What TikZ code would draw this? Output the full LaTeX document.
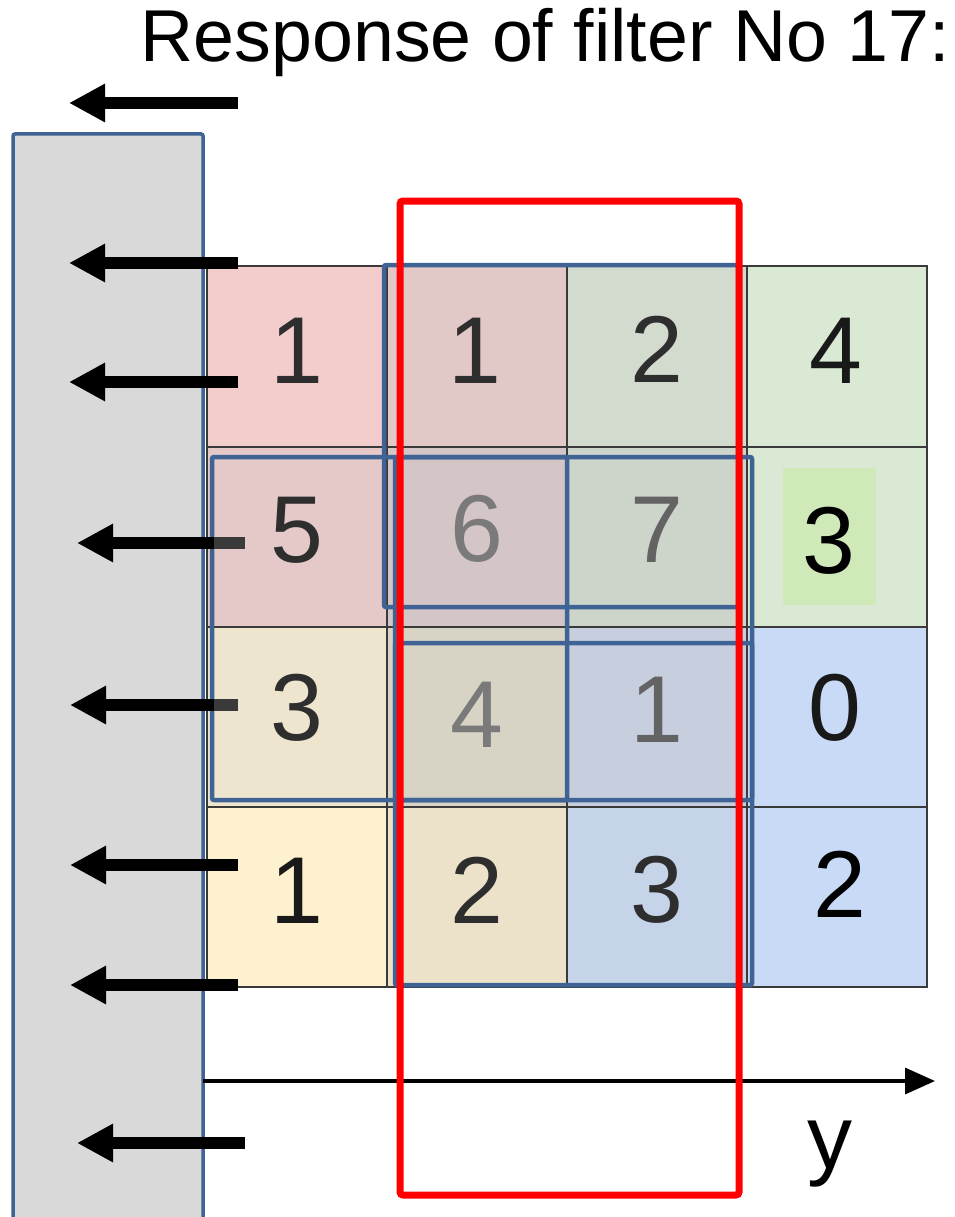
\documentclass[tikz,border=0pt]{standalone}
\usepackage{fontspec}
\setmainfont{Liberation Sans}
\usetikzlibrary{arrows.meta}
\definecolor{bluebord}{HTML}{3E6394}
\definecolor{gridc}{HTML}{3A3A3A}
\definecolor{panel}{HTML}{D9D9D9}
\definecolor{cAa}{HTML}{F3CCCC}\definecolor{cAb}{HTML}{E3C8C8}\definecolor{cAc}{HTML}{D3DBCF}\definecolor{cAd}{HTML}{D9E9D3}
\definecolor{cBa}{HTML}{E5C9C9}\definecolor{cBb}{HTML}{D4C5C6}\definecolor{cBc}{HTML}{CDD4CA}\definecolor{cBd}{HTML}{D9E9D3}
\definecolor{cCa}{HTML}{EEE5CF}\definecolor{cCb}{HTML}{D7D4C6}\definecolor{cCc}{HTML}{C7CFDF}\definecolor{cCd}{HTML}{C9DAF6}
\definecolor{cDa}{HTML}{FEF1CF}\definecolor{cDb}{HTML}{ECE2CA}\definecolor{cDc}{HTML}{C6D4E9}\definecolor{cDd}{HTML}{C9DAF6}
\definecolor{greenhl}{HTML}{D0E9B9}
\definecolor{tdark}{HTML}{2E2E2E}
\definecolor{tgrey}{HTML}{7A7A7A}
\definecolor{tmid}{HTML}{636363}
\begin{document}
\begin{tikzpicture}[x=1pt,y=-1pt,
  gridline/.style={draw=gridc, line width=2.5pt},
  winbox/.style={draw=bluebord, line width=4.5pt, rounded corners=2pt},
  larrow/.style={line width=12pt, -{Triangle[length=36pt,width=36pt]}},
  digit/.style={font=\fontsize{95}{95}\selectfont, inner sep=0pt, anchor=base},
]
\useasboundingbox (0,0) rectangle (954,1217);
\clip (0,0) rectangle (954,1217);
\fill[white] (0,0) rectangle (954,1217);

% grey panel
\draw[fill=panel, draw=bluebord, line width=3.5pt, rounded corners=2pt] (13,134) rectangle (203,1240);

% cells
\fill[cAa] (207,266) rectangle (387,447);
\fill[cAb] (387,266) rectangle (567,447);
\fill[cAc] (567,266) rectangle (747,447);
\fill[cAd] (747,266) rectangle (927,447);
\fill[cBa] (207,447) rectangle (387,627);
\fill[cBb] (387,447) rectangle (567,627);
\fill[cBc] (567,447) rectangle (747,627);
\fill[cBd] (747,447) rectangle (927,627);
\fill[cCa] (207,627) rectangle (387,807);
\fill[cCb] (387,627) rectangle (567,807);
\fill[cCc] (567,627) rectangle (747,807);
\fill[cCd] (747,627) rectangle (927,807);
\fill[cDa] (207,807) rectangle (387,987);
\fill[cDb] (387,807) rectangle (567,987);
\fill[cDc] (567,807) rectangle (747,987);
\fill[cDd] (747,807) rectangle (927,987);
\fill[greenhl] (783,468) rectangle (876,605);

% grid
\draw[gridline] (207,266) rectangle (927,987);
\foreach \x in {387,567,747} \draw[gridline] (\x,266) -- (\x,987);
\foreach \y in {447,627,807} \draw[gridline] (207,\y) -- (927,\y);

% digits
\node[digit, text=tdark] (d11) at (297,383) {1};
\node[digit, text=tdark] (d12) at (475,383) {1};
\node[digit, text=tdark] (d13) at (657,382) {2};
\node[digit, text=black!90] (d14) at (836,383) {4};
\node[digit, text=tdark] (d21) at (297,562) {5};
\node[digit, text=tgrey] (d22) at (477,561) {6};
\node[digit, text=tmid] (d23) at (657,562) {7};
\node[digit, text=black] (d24) at (829,573) {3};
\node[digit, text=tdark] (d31) at (297,740) {3};
\node[digit, text=tgrey] (d32) at (477,747) {4};
\node[digit, text=tmid] (d33) at (657,742) {1};
\node[digit, text=black!90] (d34) at (835,740) {0};
\node[digit, text=black!90] (d41) at (297,923) {1};
\node[digit, text=tdark] (d42) at (477,923) {2};
\node[digit, text=tdark] (d43) at (657,922) {3};
\node[digit, text=black] (d44) at (840,917) {2};

% filter windows
\draw[winbox] (384,265) rectangle (738,607);
\draw[winbox] (212,457) rectangle (567,800);
\draw[winbox] (395,457) rectangle (752,800);
\draw[winbox] (395,643) rectangle (752,985);

% arrows
\foreach \i/\y/\tx/\hx in {1/103/238/69, 2/263/238/69, 3/382/238/69, 4/543/245/77, 5/705/238/70, 6/865/238/70, 7/985/238/70, 8/1143/245/77} {
  \coordinate (t\i) at (\tx,\y);
  \coordinate (h\i) at (\hx,\y);
  \draw[larrow] (t\i) -- (h\i);
}
\coordinate (g4) at (214,543);
\coordinate (g5) at (214,705);
\draw[gridc, line width=12pt] (g4) -- (t4);
\draw[gridc, line width=12pt] (g5) -- (t5);

% y axis
\coordinate (ax0) at (203,1081);
\coordinate (ax1) at (935,1081);
\draw[line width=3.5pt, -{Triangle[length=30pt,width=26pt]}] (ax0) -- (ax1);
\node[font=\fontsize{90}{90}\selectfont, inner sep=0pt, anchor=base] (ylab) at (830,1168) {y};

% red window
\draw[red, line width=7pt, rounded corners=3pt] (400,201) rectangle (739,1195);

% title
\node[font=\fontsize{73.5}{73.5}\selectfont, inner sep=0pt, anchor=base east] (title) at (950,62) {Response of filter No 17:};
\end{tikzpicture}
\end{document}
